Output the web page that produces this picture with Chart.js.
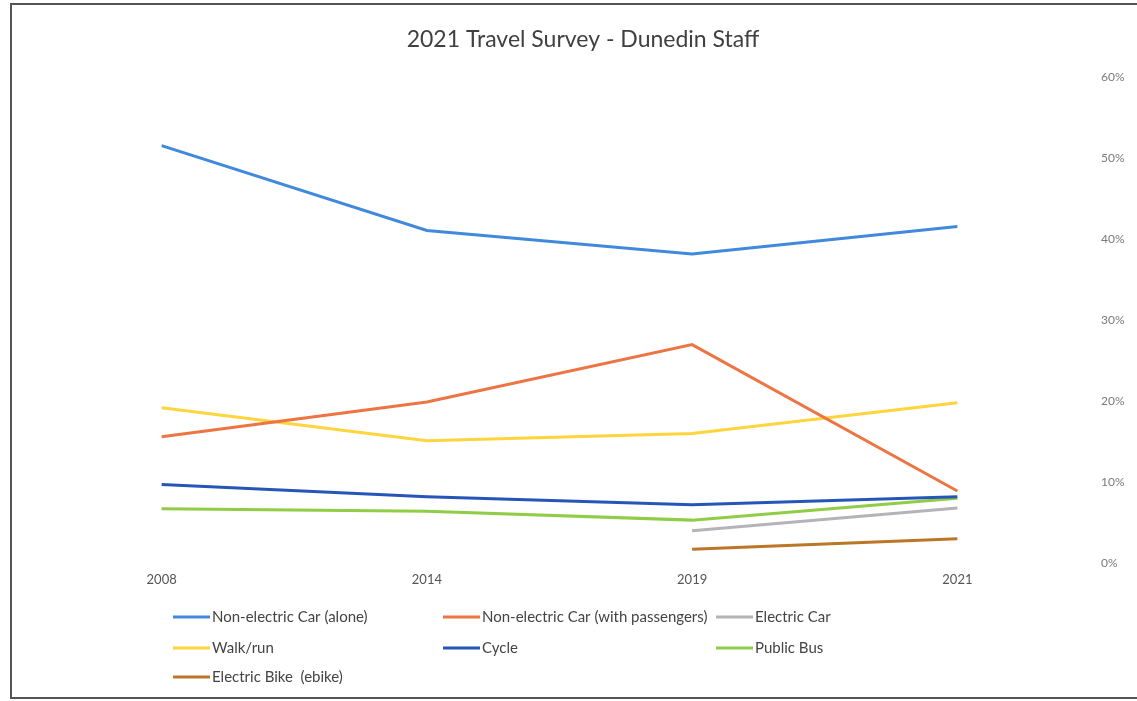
<!DOCTYPE html>
<html>
<head>
<meta charset="utf-8">
<script src="https://cdn.jsdelivr.net/npm/chart.js@4.4.1/dist/chart.umd.min.js"></script>
<style>
  body { margin: 0; background: #fff; }
  #wrap { position: relative; width: 1137px; height: 701px; }
  #frame {
    position: absolute; left: 10px; top: 3px; width: 1130px; height: 692px;
    border-left: 2px solid #555; border-top: 2px solid #555; border-bottom: 2px solid #555;
    pointer-events: none;
  }
</style>
</head>
<body>
<div id="wrap">
  <canvas id="travel-chart" width="1137" height="701"></canvas>
  <div id="frame"></div>
</div>
<script>
const years = ['2008', '2014', '2019', '2021'];
const yTicks = [0, 10, 20, 30, 40, 50, 60];

const carAlone = [51.6, 41.1, 38.2, 41.6];
const carPassengers = [15.6, 19.9, 27.0, 8.9];
const electricCar = [null, null, 4.0, 6.8];
const walkRun = [19.2, 15.1, 16.0, 19.8];
const cycle = [9.7, 8.2, 7.2, 8.2];
const publicBus = [6.7, 6.4, 5.3, 8.0];
const electricBike = [null, null, 1.7, 3.0];

document.addEventListener('DOMContentLoaded', function () {
    const ctx = document.getElementById('travel-chart').getContext('2d');
    const fontFamily = 'Lato, "Liberation Sans", sans-serif';

    function series(label, data, color) {
        return {
            label: label,
            data: data,
            borderColor: color,
            backgroundColor: color,
            borderWidth: 3,
            pointRadius: 0,
            tension: 0,
            spanGaps: false
        };
    }

    // legend in Excel-style grid, 3 columns
    const legendGrid = {
        id: 'legendGrid',
        afterDraw(chart) {
            const c = chart.ctx;
            const cols = [173, 443, 716];
            const rows = [617, 648, 677];
            c.save();
            c.font = '15px ' + fontFamily;
            c.textBaseline = 'middle';
            chart.data.datasets.forEach((ds, i) => {
                const x = cols[i % 3];
                const y = rows[Math.floor(i / 3)];
                c.strokeStyle = ds.borderColor;
                c.lineWidth = 3;
                c.beginPath();
                c.moveTo(x, y);
                c.lineTo(x + 37, y);
                c.stroke();
                c.fillStyle = '#444';
                c.fillText(ds.label, x + 39, y);
            });
            c.restore();
        }
    };

    new Chart(ctx, {
        type: 'line',
        data: {
            labels: years,
            datasets: [
                series('Non-electric Car (alone)', carAlone, '#4189dd'),
                series('Non-electric Car (with passengers)', carPassengers, '#ec7543'),
                series('Electric Car', electricCar, '#b4b4b8'),
                series('Walk/run', walkRun, '#ffd43c'),
                series('Cycle', cycle, '#2655b8'),
                series('Public Bus', publicBus, '#90cc45'),
                series('Electric Bike  (ebike)', electricBike, '#bb7628')
            ]
        },
        options: {
            responsive: false,
            animation: false,
            layout: { padding: { left: 29, right: 0, top: 0, bottom: 0 } },
            plugins: {
                legend: { display: false },
                tooltip: { enabled: false },
                title: {
                    display: true,
                    text: '2021 Travel Survey - Dunedin Staff',
                    color: '#404040',
                    font: { family: fontFamily, size: 23, weight: 'normal' },
                    padding: { top: 26, bottom: 24 }
                }
            },
            scales: {
                x: {
                    offset: true,
                    grid: { display: false, drawTicks: false },
                    border: { display: false },
                    ticks: {
                        color: '#555',
                        padding: 9,
                        maxRotation: 0,
                        font: { family: fontFamily, size: 13 }
                    },
                    afterFit: (scale) => { scale.height = 138; }
                },
                y: {
                    position: 'right',
                    min: 0,
                    max: 60,
                    afterBuildTicks: (scale) => { scale.ticks = yTicks.map(v => ({ value: v })); },
                    grid: { display: false, drawTicks: false },
                    border: { display: false },
                    ticks: {
                        color: '#7a7a7a',
                        padding: 11,
                        font: { family: fontFamily, size: 12 },
                        callback: (v) => v + '%'
                    },
                    afterFit: (scale) => { scale.width = 47; }
                }
            }
        },
        plugins: [legendGrid]
    });
});
</script>
</body>
</html>
